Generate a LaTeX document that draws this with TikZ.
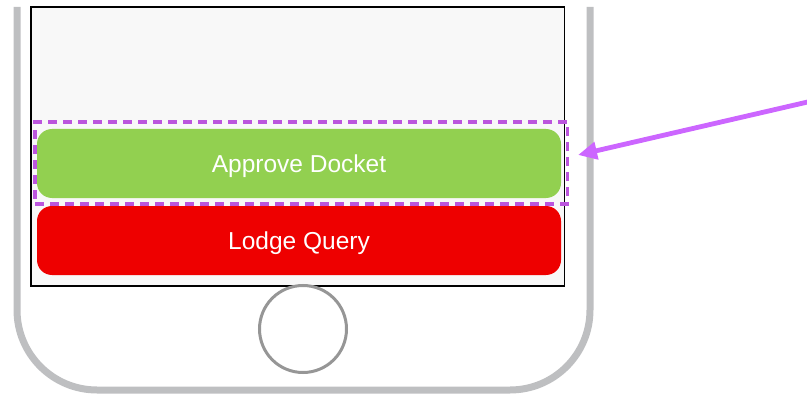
\documentclass[tikz,border=0pt]{standalone}
\usepackage{fontspec}
\setmainfont{Liberation Sans}
\usetikzlibrary{arrows.meta}
\definecolor{phonegray}{RGB}{190,191,193}
\definecolor{homegray}{RGB}{150,150,150}
\definecolor{screenbg}{RGB}{248,248,248}
\definecolor{btngreen}{RGB}{146,208,80}
\definecolor{btnred}{RGB}{238,0,0}
\definecolor{hlpurple}{RGB}{187,85,221}
\definecolor{arrowviolet}{RGB}{204,102,255}
\tikzset{
  btn/.style={rounded corners=15pt, minimum width=524pt, minimum height=69pt, inner sep=0pt, text height=17.5pt, text depth=0pt, text=white, font=\fontsize{24.5}{28}\selectfont},
  hlbox/.style={draw=hlpurple, line width=3.8pt, dash pattern=on 9pt off 6pt, minimum width=532.5pt, minimum height=81.7pt, inner sep=0pt},
  pointer/.style={draw=arrowviolet, line width=4.8pt, -{Triangle[length=19pt,width=17pt]}}
}
\begin{document}
\begin{tikzpicture}[x=1pt,y=-1pt]
\useasboundingbox (0,0) rectangle (807,396);
% phone body
\draw[phonegray, line width=7pt] (17,7) -- (17,310) arc[start angle=180, end angle=90, radius=80] -- (510,390) arc[start angle=90, end angle=0, radius=80] -- (590,7);
% screen
\node[draw=black, line width=1.8pt, fill=screenbg, minimum width=533.5pt, minimum height=279pt, inner sep=0pt] (screen) at (297.75,146.5) {};
% buttons
\node[btn, fill=btngreen] (approve) at (299,163.5) {Approve Docket};
\node[btn, fill=btnred] (lodge) at (299,240.5) {Lodge Query};
% highlight
\node[hlbox] (hl) at (301.25,162.85) {};
% home button
\node[circle, draw=homegray, line width=3pt, minimum size=87pt, inner sep=0pt] (home) at (303,329) {};
% pointer arrow
\coordinate (src) at (812,101);
\coordinate (tip) at (578,155);
\draw[pointer] (src) -- (tip);
\end{tikzpicture}
\end{document}
